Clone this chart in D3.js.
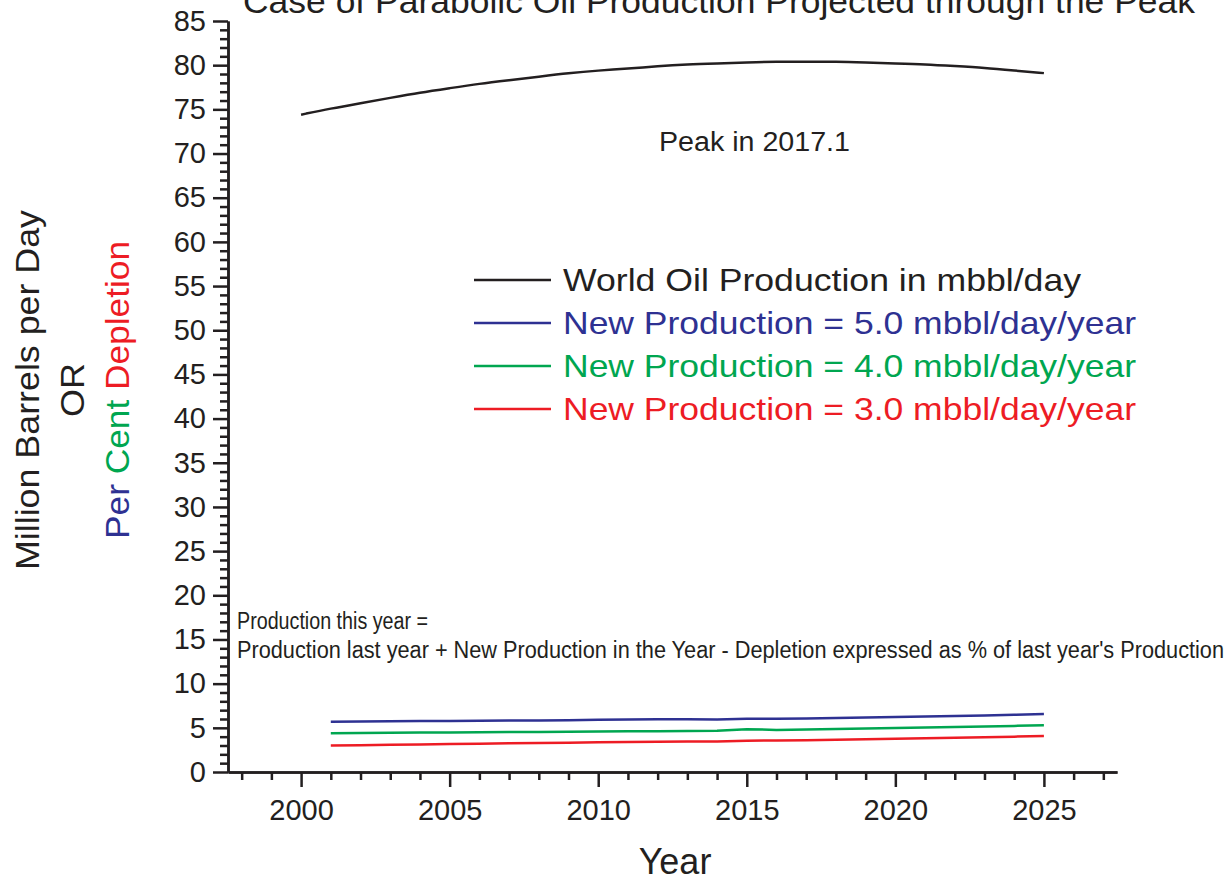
<!DOCTYPE html>
<html>
<head>
<meta charset="utf-8">
<script src="https://cdn.jsdelivr.net/npm/d3@7"></script>
<style>
  body { margin: 0; background: #fff; }
  text { font-family: "Liberation Sans", Arial, sans-serif; fill: #231f20; }
</style>
</head>
<body>
<div class="myChart"></div>
<script>
// years and series
const worldYears = d3.range(2000, 2026);
const worldOil = [74.4, 75.1, 75.7, 76.3, 76.9, 77.4, 77.9, 78.3, 78.7, 79.1, 79.4, 79.6, 79.9, 80.1,
                  80.2, 80.3, 80.4, 80.4, 80.4, 80.3, 80.2, 80.1, 79.9, 79.7, 79.4, 79.1];
const newYears = d3.range(2001, 2026);
const newProd5 = [5.70, 5.72, 5.74, 5.76, 5.78, 5.80, 5.82, 5.84, 5.86, 5.90, 5.93, 5.96, 5.98, 5.95,
                  6.02, 6.03, 6.06, 6.12, 6.16, 6.22, 6.28, 6.34, 6.40, 6.48, 6.56];
const newProd4 = [4.40, 4.42, 4.44, 4.46, 4.48, 4.50, 4.52, 4.54, 4.56, 4.58, 4.60, 4.62, 4.64, 4.66,
                  4.85, 4.76, 4.82, 4.88, 4.93, 4.98, 5.04, 5.10, 5.16, 5.22, 5.30];
const newProd3 = [3.00, 3.04, 3.08, 3.12, 3.16, 3.20, 3.24, 3.28, 3.32, 3.36, 3.40, 3.42, 3.44, 3.46,
                  3.55, 3.56, 3.58, 3.64, 3.70, 3.76, 3.82, 3.88, 3.94, 4.00, 4.07];
const legendLabels = ["World Oil Production in mbbl/day", "New Production = 5.0 mbbl/day/year",
                      "New Production = 4.0 mbbl/day/year", "New Production = 3.0 mbbl/day/year"];
const yTicks = d3.range(0, 86, 5);
const xTicks = [2000, 2005, 2010, 2015, 2020, 2025];

const colors = {black: "#231f20", blue: "#2e3192", green: "#00a650", red: "#ed1c24"};

const width = 1229, height = 880;
const margin = {top: 21, right: 112, bottom: 108, left: 228};

var svg = d3.select(".myChart").append("svg").attr("width", width).attr("height", height);

var x = d3.scaleLinear().domain([1997.54, 2027.46]).range([margin.left, width - margin.right]);
var y = d3.scaleLinear().domain([0, 85]).range([height - margin.bottom, margin.top]);

// axes
var xAxis = svg.append("g")
    .attr("transform", "translate(0," + y(0) + ")")
    .call(d3.axisBottom(x).tickValues(xTicks).tickFormat(d3.format("d")).tickSize(15).tickSizeOuter(0).tickPadding(12));
svg.append("g")
    .attr("transform", "translate(0," + y(0) + ")")
    .call(d3.axisBottom(x).tickValues(d3.range(1998, 2028).filter(d => d % 5)).tickFormat("").tickSize(8).tickSizeOuter(0));

var yAxis = svg.append("g")
    .attr("transform", "translate(" + x.range()[0] + ",0)")
    .call(d3.axisLeft(y).tickValues(yTicks).tickSize(15).tickSizeOuter(0).tickPadding(7));
svg.append("g")
    .attr("transform", "translate(" + x.range()[0] + ",0)")
    .call(d3.axisLeft(y).tickValues(d3.range(0, 86).filter(d => d % 5)).tickFormat("").tickSize(8).tickSizeOuter(0));

svg.selectAll(".domain, .tick line").attr("stroke", colors.black).attr("stroke-width", 2.5);
svg.selectAll(".tick text").style("font-size", "29px").attr("fill", colors.black);
xAxis.selectAll(".tick text").attr("dy", "0.71em");

// series
var line = d3.line().x(d => x(d[0])).y(d => y(d[1]));
var series = [
  {years: worldYears, values: worldOil, color: colors.black},
  {years: newYears, values: newProd5, color: colors.blue},
  {years: newYears, values: newProd4, color: colors.green},
  {years: newYears, values: newProd3, color: colors.red}
];
series.forEach((s, i) => {
  svg.append("path")
    .datum(s.years.map((yr, j) => [yr, s.values[j]]))
    .attr("fill", "none")
    .attr("stroke", s.color)
    .attr("stroke-width", 2.5)
    .attr("d", i == 0 ? line.curve(d3.curveBasis)(s.years.map((yr, j) => [yr, s.values[j]])) : line.curve(d3.curveLinear)(s.years.map((yr, j) => [yr, s.values[j]])));
});

// legend
series.forEach((s, i) => {
  var ly = 280 + i * 43;
  svg.append("line").attr("x1", 474).attr("x2", 551).attr("y1", ly).attr("y2", ly)
    .attr("stroke", s.color).attr("stroke-width", 2.5);
  svg.append("text").attr("x", 563).attr("y", ly + 11)
    .style("font-size", "32px").style("fill", s.color)
    .attr("textLength", i == 0 ? 518 : 573).attr("lengthAdjust", "spacingAndGlyphs")
    .text(legendLabels[i]);
});

// title and notes
svg.append("text").attr("x", 243).attr("y", 13)
  .style("font-size", "33px").attr("textLength", 952).attr("lengthAdjust", "spacingAndGlyphs")
  .text("Case of Parabolic Oil Production Projected through the Peak");

svg.append("text").attr("x", 659).attr("y", 151)
  .style("font-size", "27px").attr("textLength", 191).attr("lengthAdjust", "spacingAndGlyphs")
  .text("Peak in 2017.1");

svg.append("text").attr("x", 237).attr("y", 629)
  .style("font-size", "23px").attr("textLength", 191).attr("lengthAdjust", "spacingAndGlyphs")
  .text("Production this year =");
svg.append("text").attr("x", 237).attr("y", 658)
  .style("font-size", "23px").attr("textLength", 987).attr("lengthAdjust", "spacingAndGlyphs")
  .text("Production last year + New Production in the Year - Depletion expressed as % of last year's Production");

svg.append("text").attr("x", 675).attr("y", 874).attr("text-anchor", "middle")
  .style("font-size", "36px").text("Year");

// y axis label, three lines
var yl = [
  {parts: [{t: "Million Barrels per Day", c: colors.black}], len: 360},
  {parts: [{t: "OR", c: colors.black}], len: 54},
  {parts: [{t: "Per ", c: colors.blue}, {t: "Cent ", c: colors.green}, {t: "Depletion", c: colors.red}], len: 298}
];
[27, 72, 117].forEach((cx, i) => {
  var t = svg.append("text")
    .attr("transform", "translate(" + (cx + 12) + ",390) rotate(-90)")
    .attr("text-anchor", "middle")
    .attr("textLength", yl[i].len).attr("lengthAdjust", "spacingAndGlyphs")
    .style("font-size", "34px");
  yl[i].parts.forEach(p => t.append("tspan").style("fill", p.c).text(p.t));
});
</script>
</body>
</html>
